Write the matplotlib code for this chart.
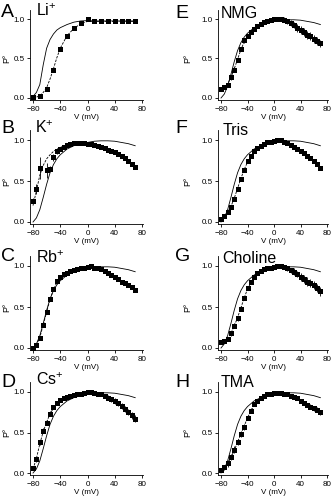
import numpy as np
import matplotlib
matplotlib.use("Agg")
import matplotlib.pyplot as plt

plt.rcParams['font.family'] = ['Liberation Sans', 'DejaVu Sans']
plt.rcParams['mathtext.fontset'] = 'custom'
plt.rcParams['mathtext.rm'] = 'Liberation Sans'

# test potentials (mV)
v_li = [-80, -70, -60, -50, -40, -30, -20, -10, 0, 10, 20, 30, 40, 50, 60, 70]
v_k = [-80, -75, -70, -60, -55, -50, -45, -40, -35, -30, -25, -20, -15, -10, -5,
       0, 5, 10, 15, 20, 25, 30, 35, 40, 45, 50, 55, 60, 65, 70]
v5 = np.arange(-80, 75, 5)
fit_v = [-80, -75, -70, -65, -60, -55, -50, -45, -40, -30, -20, -10, 0, 10, 20, 30, 40, 50, 60, 70]

# mean open probability
po_li = [0.01, 0.03, 0.11, 0.35, 0.62, 0.78, 0.88, 0.95, 1.0, 0.97, 0.97, 0.975, 0.97, 0.97, 0.97, 0.97]
po_k = [0.26, 0.40, 0.66, 0.63, 0.65, 0.79, 0.86, 0.89, 0.92, 0.94, 0.95, 0.96, 0.965, 0.965, 0.96,
        0.955, 0.95, 0.94, 0.93, 0.92, 0.90, 0.88, 0.865, 0.85, 0.83, 0.80, 0.78, 0.75, 0.71, 0.67]
po_rb = [0.0, 0.04, 0.12, 0.28, 0.44, 0.60, 0.72, 0.82, 0.87, 0.90, 0.92, 0.94, 0.95, 0.96, 0.97, 0.98,
         0.99, 1.0, 0.98, 0.97, 0.96, 0.94, 0.91, 0.89, 0.87, 0.84, 0.81, 0.79, 0.77, 0.74, 0.71]
po_cs = [0.06, 0.17, 0.38, 0.52, 0.62, 0.73, 0.81, 0.87, 0.90, 0.92, 0.94, 0.95, 0.96, 0.97, 0.98, 0.99,
         1.0, 0.995, 0.99, 0.98, 0.97, 0.95, 0.93, 0.91, 0.89, 0.86, 0.83, 0.79, 0.75, 0.71, 0.67]
po_nmg = [0.12, 0.14, 0.17, 0.26, 0.36, 0.48, 0.62, 0.73, 0.79, 0.83, 0.87, 0.91, 0.94, 0.96, 0.98, 0.99,
          1.0, 1.0, 1.0, 0.99, 0.97, 0.95, 0.92, 0.89, 0.86, 0.83, 0.80, 0.78, 0.75, 0.72, 0.69]
po_tris = [0.04, 0.07, 0.12, 0.18, 0.28, 0.40, 0.53, 0.64, 0.74, 0.81, 0.86, 0.90, 0.93, 0.95, 0.97, 0.98,
           0.99, 1.0, 1.0, 0.98, 0.96, 0.94, 0.92, 0.89, 0.86, 0.84, 0.81, 0.78, 0.75, 0.71, 0.66]
po_chol = [0.07, 0.08, 0.11, 0.18, 0.27, 0.36, 0.48, 0.61, 0.73, 0.81, 0.87, 0.91, 0.94, 0.96, 0.97, 0.98,
           0.99, 1.0, 1.0, 0.99, 0.97, 0.95, 0.93, 0.90, 0.87, 0.84, 0.81, 0.79, 0.77, 0.73, 0.69]
po_tma = [0.04, 0.07, 0.12, 0.20, 0.29, 0.38, 0.48, 0.57, 0.68, 0.77, 0.85, 0.89, 0.92, 0.95, 0.97, 0.98,
          0.99, 0.99, 0.985, 0.98, 0.97, 0.955, 0.94, 0.92, 0.895, 0.87, 0.845, 0.82, 0.80, 0.78, 0.75]

# s.e.m.
err_li = [0.01, 0.01, 0.02, 0.02, 0.02, 0.02, 0.02, 0.01, 0.01, 0.01, 0.01, 0.01, 0.01, 0.01, 0.01, 0.01]
err_k = [0.03, 0.06, 0.13, 0.09, 0.03, 0.04, 0.03, 0.02, 0.02, 0.02, 0.01, 0.01, 0.01, 0.01, 0.01,
         0.01, 0.01, 0.01, 0.01, 0.01, 0.01, 0.01, 0.01, 0.01, 0.01, 0.01, 0.01, 0.01, 0.01, 0.01]
err_rb = [0.01] * 3 + [0.02] * 6 + [0.01] * 15 + [0.015] * 7
err_cs = [0.02, 0.03, 0.03, 0.03, 0.03, 0.03, 0.02, 0.02, 0.02, 0.02, 0.02, 0.02, 0.02, 0.02, 0.02, 0.02,
          0.02, 0.02, 0.02, 0.02, 0.02, 0.02, 0.03, 0.03, 0.035, 0.035, 0.04, 0.04, 0.04, 0.04, 0.04]
err_nmg = [0.02, 0.03, 0.03, 0.03, 0.03, 0.03, 0.03, 0.03, 0.02, 0.02, 0.02, 0.02, 0.02, 0.02, 0.02, 0.02,
           0.02, 0.02, 0.02, 0.03, 0.03, 0.04, 0.04, 0.05, 0.05, 0.05, 0.05, 0.05, 0.05, 0.05, 0.05]
err_tris = [0.01] * 31
err_chol = [0.02, 0.02, 0.03, 0.03, 0.03, 0.03, 0.03, 0.03, 0.02, 0.02, 0.02, 0.02, 0.01, 0.01, 0.01, 0.01,
            0.01, 0.01, 0.02, 0.02, 0.03, 0.03, 0.04, 0.04, 0.05, 0.05, 0.05, 0.05, 0.05, 0.05, 0.05]
err_tma = [0.02, 0.03, 0.04, 0.04, 0.04, 0.04, 0.04, 0.04, 0.03, 0.03, 0.02, 0.02, 0.01, 0.01, 0.01, 0.01,
           0.01, 0.01, 0.01, 0.01, 0.01, 0.02, 0.02, 0.02, 0.02, 0.02, 0.02, 0.03, 0.03, 0.03, 0.03]

# fitted curves (dashed) and Na+ control curve (solid)
fit_li = [0.0, 0.01, 0.03, 0.07, 0.13, 0.24, 0.37, 0.51, 0.63, 0.79, 0.88, 0.94, 0.97, 0.97, 0.97, 0.97, 0.97, 0.97, 0.97, 0.97]
fit_k = [0.20, 0.38, 0.57, 0.69, 0.77, 0.82, 0.86, 0.89, 0.91, 0.94, 0.96, 0.965, 0.955, 0.94, 0.92, 0.88, 0.85, 0.80, 0.75, 0.67]
fit_rb = [0.0, 0.04, 0.13, 0.28, 0.44, 0.59, 0.71, 0.80, 0.86, 0.92, 0.95, 0.97, 0.985, 0.985, 0.96, 0.91, 0.87, 0.81, 0.77, 0.71]
fit_cs = [0.05, 0.18, 0.36, 0.51, 0.63, 0.73, 0.80, 0.86, 0.89, 0.93, 0.96, 0.98, 0.99, 0.99, 0.97, 0.93, 0.89, 0.83, 0.75, 0.67]
fit_nmg = [0.10, 0.13, 0.18, 0.26, 0.37, 0.49, 0.61, 0.71, 0.78, 0.87, 0.94, 0.98, 0.995, 0.995, 0.97, 0.92, 0.86, 0.80, 0.75, 0.69]
fit_tris = [0.03, 0.07, 0.12, 0.19, 0.29, 0.41, 0.53, 0.64, 0.73, 0.86, 0.93, 0.97, 0.99, 0.995, 0.96, 0.92, 0.86, 0.81, 0.75, 0.66]
fit_chol = [0.06, 0.08, 0.11, 0.18, 0.27, 0.37, 0.49, 0.61, 0.72, 0.86, 0.94, 0.97, 0.99, 0.995, 0.97, 0.93, 0.87, 0.81, 0.77, 0.69]
fit_tma = [0.04, 0.07, 0.12, 0.19, 0.28, 0.38, 0.48, 0.58, 0.68, 0.84, 0.92, 0.97, 0.99, 0.985, 0.97, 0.94, 0.895, 0.845, 0.80, 0.75]
na_li = [0.02, 0.07, 0.17, 0.42, 0.63, 0.74, 0.81, 0.86, 0.89, 0.93, 0.96, 0.975, 0.98, 0.975, 0.975, 0.975, 0.975, 0.975, 0.975, 0.975]
na_ctrl = [0.0, 0.05, 0.15, 0.30, 0.46, 0.60, 0.70, 0.77, 0.82, 0.89, 0.93, 0.955, 0.97, 0.985, 0.99, 0.99, 0.985, 0.97, 0.955, 0.93]

panels = [
    ('A', 'Li$^{+}$', v_li, po_li, err_li, fit_li, na_li),
    ('B', 'K$^{+}$', v_k, po_k, err_k, fit_k, na_ctrl),
    ('C', 'Rb$^{+}$', v5, po_rb, err_rb, fit_rb, na_ctrl),
    ('D', 'Cs$^{+}$', v5, po_cs, err_cs, fit_cs, na_ctrl),
    ('E', 'NMG', v5, po_nmg, err_nmg, fit_nmg, na_ctrl),
    ('F', 'Tris', v5, po_tris, err_tris, fit_tris, na_ctrl),
    ('G', 'Choline', v5, po_chol, err_chol, fit_chol, na_ctrl),
    ('H', 'TMA', v5, po_tma, err_tma, fit_tma, na_ctrl),
]

W, H = 336, 500
fig = plt.figure(figsize=(W / 100, H / 100), dpi=100)

# pixel layout: y of Po=0 and Po=1 per row, x of -80 and +80 per column
row_y0 = [98, 222, 348, 473]
row_y1 = [19, 140, 266, 392]
col_x = [(33, 142), (221, 327)]
letter_base = [[17, 133, 261, 387], [18, 133, 261, 387]]
ion_base = [[16, 133, 263, 385], [18, 135, 263, 387]]
ion_x = [[36, 35, 36, 36], [221, 223, 222, 221]]
xlo, xhi = -84, 82
ylo, yhi = -0.03, 1.12

for i, (letter, ion, v, po, err, fit, ctrl) in enumerate(panels):
    col, row = divmod(i, 4)
    xa, xb = col_x[col]
    sx = (xb - xa) / 160.0
    left = xa + (xlo + 80) * sx
    right = xa + (xhi + 80) * sx
    sy = row_y0[row] - row_y1[row]
    bottom = row_y0[row] - ylo * sy
    top = row_y0[row] - yhi * sy
    ax = fig.add_axes([left / W, 1 - bottom / H, (right - left) / W, (bottom - top) / H])

    ax.plot(fit_v, ctrl, '-', color='black', lw=0.6)
    ax.plot(fit_v, fit, '--', color='black', lw=0.6, dashes=(3, 1.5))
    ax.errorbar(v, po, yerr=err, fmt='s', color='black', ms=3.6, mew=0,
                elinewidth=0.6, capsize=1.6, capthick=0.6)

    ax.set_xlim(xlo, xhi)
    ax.set_ylim(ylo, yhi)
    ax.set_xticks([-80, -40, 0, 40, 80])
    ax.set_yticks([0.0, 0.5, 1.0])
    ax.set_yticklabels(['0.0', '0.5', '1.0'])
    for s in ['top', 'right']:
        ax.spines[s].set_visible(False)
    for s in ['left', 'bottom']:
        ax.spines[s].set_linewidth(0.6)
    ax.tick_params(labelsize=5.8, length=2, width=0.6, pad=2)
    ax.set_xlabel('V (mV)', fontsize=5.8, labelpad=1)

    # Po label placed at a fixed pixel column
    lab_x = [7, 188][col]
    fig.text(lab_x / W, 1 - (row_y0[row] - 0.5 * sy) / H, 'P°', rotation=90,
             fontsize=6.2, ha='center', va='center')

    lx = [1, 175][col]
    fig.text(lx / W, 1 - letter_base[col][row] / H, letter, fontsize=14,
             ha='left', va='baseline')
    fig.text(ion_x[col][row] / W, 1 - ion_base[col][row] / H, ion, fontsize=11.5,
             ha='left', va='baseline')

fig.savefig('out.png', dpi=100)
